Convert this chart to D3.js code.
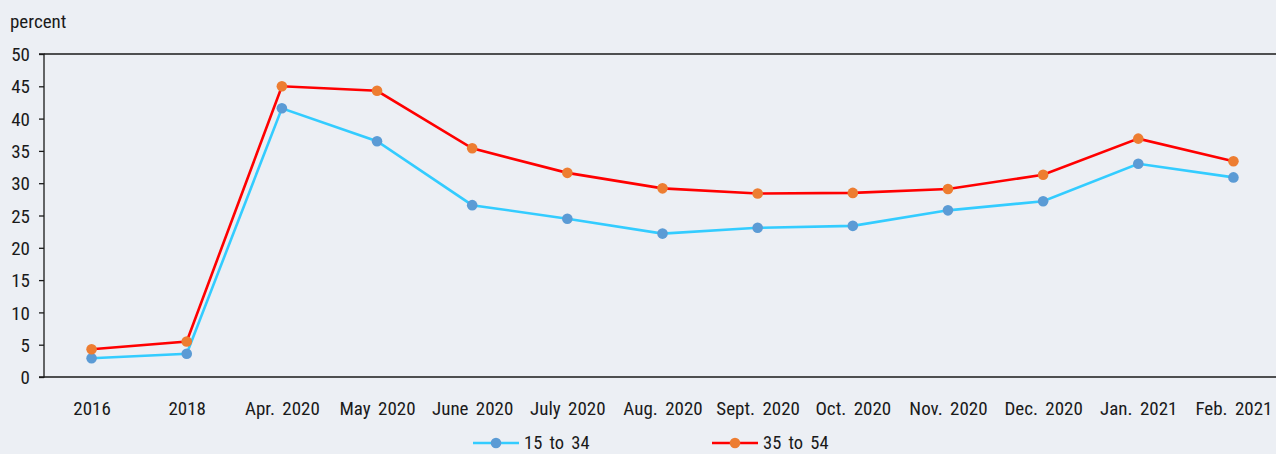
<!DOCTYPE html>
<html><head><meta charset="utf-8">
<script src="https://cdn.jsdelivr.net/npm/d3@7"></script>
<style>
html,body{margin:0;padding:0;background:#eceff4;}
svg{display:block;}
text{font-family:"Liberation Sans Narrow","Roboto Condensed","Arial Narrow",sans-serif;fill:#1a1a1a;}
</style></head><body>
<svg id="c" width="1276" height="454"></svg>
<script>
const categories = ["2016","2018","Apr. 2020","May 2020","June 2020","July 2020","Aug. 2020","Sept. 2020","Oct. 2020","Nov. 2020","Dec. 2020","Jan. 2021","Feb. 2021"];
const young = [2.9,3.6,41.6,36.5,26.6,24.5,22.2,23.1,23.4,25.8,27.2,33.0,30.9];
const middle = [4.3,5.5,45.0,44.3,35.4,31.6,29.2,28.4,28.5,29.1,31.3,36.9,33.4];
const yTicks = [0,5,10,15,20,25,30,35,40,45,50];
const seriesNames = ["15 to 34","35 to 54"];

(function(){
const svg = d3.select("#c");
const mL = 44, mR = 1281, mT = 54, mB = 377;
const fs = 19;
const x = d3.scalePoint().domain(categories).range([mL, mR]).padding(0.5);
const y = d3.scaleLinear().domain([0,50]).range([mB, mT]);

svg.append("rect").attr("width",1276).attr("height",454).attr("fill","#eceff4");

svg.append("line").attr("x1",mL).attr("x2",1276).attr("y1",mT).attr("y2",mT).attr("stroke","#1a1a1a").attr("stroke-width",1.3);

const ya = svg.append("g").attr("transform",`translate(${mL},0)`)
  .call(d3.axisLeft(y).tickValues(yTicks).tickSize(5).tickPadding(9));
ya.select(".domain").attr("stroke","#1a1a1a").attr("stroke-width",1.3).attr("d",`M-5,${mT}H0V${mB}H-5`);
ya.selectAll(".tick line").attr("stroke","#1a1a1a").attr("stroke-width",1.3);
ya.selectAll("text").attr("font-size",fs).attr("fill","#1a1a1a").attr("dy","0.35em");

const xa = svg.append("g").attr("transform",`translate(0,${mB})`)
  .call(d3.axisBottom(x).tickSize(0).tickPadding(25));
xa.select(".domain").attr("stroke","#1a1a1a").attr("stroke-width",1.3).attr("d",`M${mL},0H1276`);
xa.selectAll("text").attr("font-size",fs).attr("fill","#1a1a1a").attr("word-spacing","3px");

svg.append("text").attr("x",10).attr("y",28).attr("font-size",fs).text("percent");

const series = [
  {name:seriesNames[0], vals:young, line:"#33ccff", dot:"#5b9bd5"},
  {name:seriesNames[1], vals:middle, line:"#ff0000", dot:"#ed7d31"}
];
const lineGen = d3.line().x((d,i)=>x(categories[i])).y(d=>y(d));
series.forEach(s=>{
  svg.append("path").attr("d",lineGen(s.vals)).attr("fill","none").attr("stroke",s.line).attr("stroke-width",2.6);
});
series.forEach(s=>{
  svg.append("g").selectAll("circle").data(s.vals).join("circle")
    .attr("cx",(d,i)=>x(categories[i])).attr("cy",d=>y(d)).attr("r",5.3).attr("fill",s.dot);
});

const legX = [473, 712];
series.forEach((s,i)=>{
  const g = svg.append("g").attr("transform",`translate(${legX[i]},443)`);
  g.append("line").attr("x1",0).attr("x2",46).attr("stroke",s.line).attr("stroke-width",2.6);
  g.append("circle").attr("cx",23).attr("r",5.3).attr("fill",s.dot);
  g.append("text").attr("x",51).attr("y",0).attr("dy","0.33em").attr("font-size",18.5).attr("word-spacing","3px").text(s.name);
});
})();
</script></body></html>
